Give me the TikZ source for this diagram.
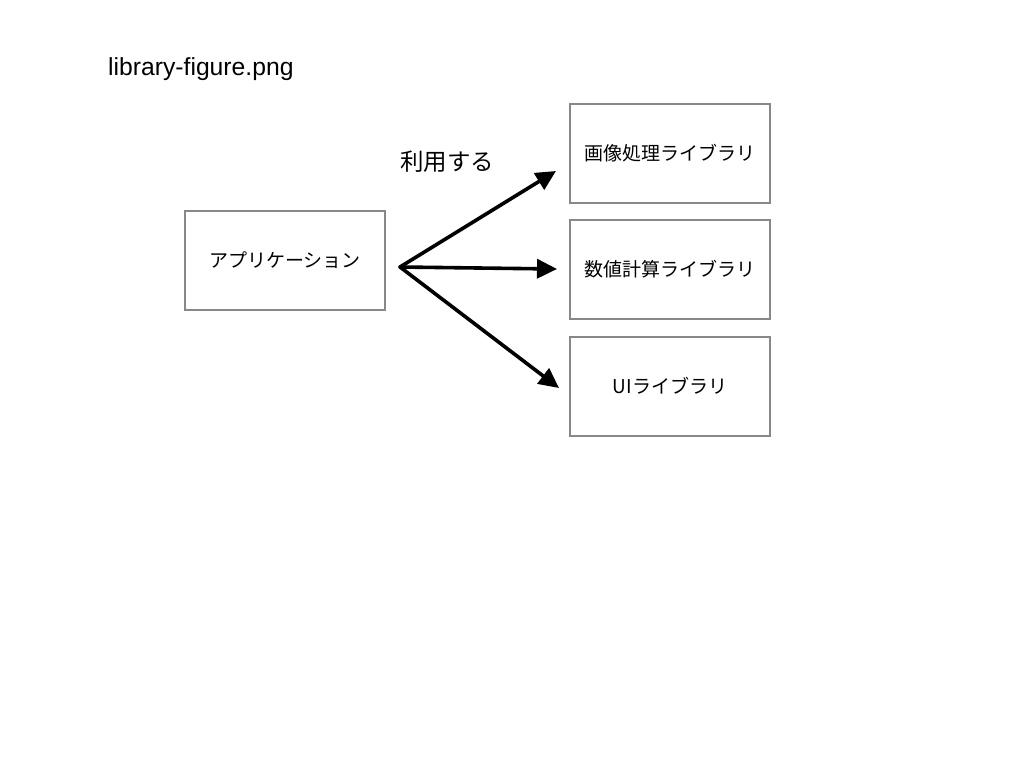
\documentclass[tikz,border=0pt]{standalone}
\usepackage{fontspec}
\setmainfont{Liberation Sans}
\newfontfamily\jp{Noto Sans CJK JP}
\usetikzlibrary{arrows.meta}
\definecolor{boxgray}{HTML}{888888}
\tikzset{
  box/.style={draw=boxgray, line width=2pt, minimum width=200pt, minimum height=99pt, inner sep=0pt, font=\jp\fontsize{19}{21}\selectfont},
  arr/.style={line width=3.6pt, line cap=round, -{Triangle[length=20pt,width=19pt]}},
}
\begin{document}
\begin{tikzpicture}[x=1pt,y=-1pt]
\useasboundingbox (0,0) rectangle (1028,772);
\node[anchor=base west, inner sep=0pt, font=\fontsize{24.7}{28}\selectfont] (title) at (108,75) {library-figure.png};
\node[box] (app) at (285,260.5) {アプリケーション};
\node[box] (img) at (670,153) {画像処理ライブラリ};
\node[box] (num) at (670,269.5) {数値計算ライブラリ};
\node[box] (ui) at (670,386) {UIライブラリ};
\node[font=\jp\fontsize{23.5}{26}\selectfont] (use) at (447,162) {利用する};
\coordinate (fork) at (400,267);
\coordinate (t1) at (556,171);
\coordinate (t2) at (557,269);
\coordinate (t3) at (559,388);
\draw[arr] (fork) -- (t1);
\draw[arr] (fork) -- (t2);
\draw[arr] (fork) -- (t3);
\end{tikzpicture}
\end{document}
